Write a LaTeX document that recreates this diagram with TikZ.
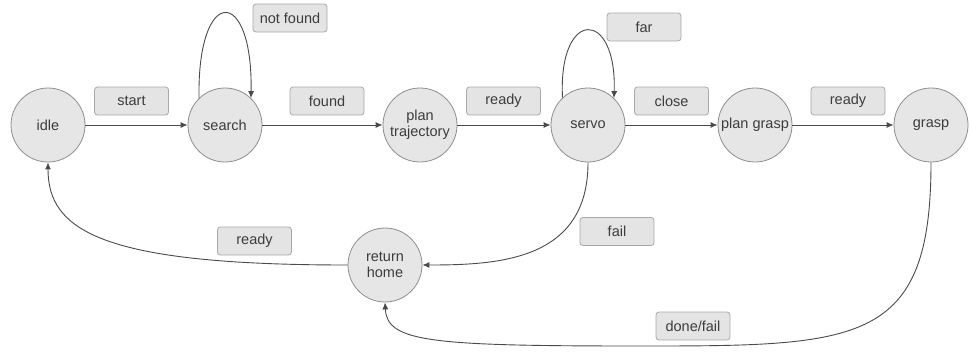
\documentclass[tikz,border=0pt]{standalone}
\usepackage{fontspec}
\setmainfont{Liberation Sans}
\usetikzlibrary{arrows.meta}
\definecolor{nodefill}{HTML}{E6E6E6}
\definecolor{nodeline}{HTML}{8E8E8E}
\definecolor{boxfill}{HTML}{E4E4E4}
\definecolor{boxline}{HTML}{A8A8A8}
\definecolor{txt}{HTML}{3C3C3C}
\definecolor{edge}{HTML}{4A4A4A}
\tikzset{
  state/.style={circle, draw=nodeline, fill=nodefill, line width=0.8pt, minimum size=74pt, inner sep=0pt, align=center, text=txt, font=\fontsize{14.5}{16}\selectfont},
  lbl/.style={rectangle, rounded corners=3pt, draw=boxline, fill=boxfill, line width=0.8pt, minimum width=74pt, minimum height=28pt, inner sep=0pt, text=txt, font=\fontsize{14.5}{16}\selectfont},
  conn/.style={draw=edge, line width=0.9pt, -{Latex[length=7pt,width=6pt]}}
}
\begin{document}
\begin{tikzpicture}[x=1pt,y=-1pt]
\useasboundingbox (0,0) rectangle (971,351);
% states
\node[state] (idle) at (48,125) {idle};
\node[state] (search) at (225,125) {search};
\node[state] (plantraj) at (420,125) {plan\\trajectory};
\node[state] (servo) at (588,125) {servo};
\node[state] (plangrasp) at (755,125) {plan grasp};
\node[state] (grasp) at (931,125) {grasp};
\node[state] (home) at (385,265) {return\\home};
% labels
\node[lbl] (lstart) at (131.5,101) {start};
\node[lbl] (lfound) at (327,101) {found};
\node[lbl] (lnotfound) at (290,18) {not found};
\node[lbl] (lready1) at (503.5,101) {ready};
\node[lbl] (lfar) at (644,27) {far};
\node[lbl] (lclose) at (671.5,101) {close};
\node[lbl] (lready2) at (848,101) {ready};
\node[lbl] (lready3) at (254.5,241) {ready};
\node[lbl] (lfail) at (617,231.5) {fail};
\node[lbl] (ldone) at (693,326) {done/fail};
% connectors
\draw[conn] (idle) -- (search);
\draw[conn] (search) -- (plantraj);
\draw[conn] (plantraj) -- (servo);
\draw[conn] (servo) -- (plangrasp);
\draw[conn] (plangrasp) -- (grasp);
\draw[conn] (search.134) .. controls (197,-15) and (253,-15) .. (search.46);
\draw[conn] (servo.133) .. controls (558,8) and (617,8) .. (servo.46);
\draw[conn] (servo.south) .. controls (588,260) and (500,265) .. (home.east);
\draw[conn] (home.west) .. controls (100,265) and (48,230) .. (idle.south);
\coordinate (bot) at (640,346);
\draw[conn] (grasp.south) .. controls (931,345) and (860,346) .. (bot)
  .. controls (430,346) and (387,342) .. (home.south);
\end{tikzpicture}
\end{document}
